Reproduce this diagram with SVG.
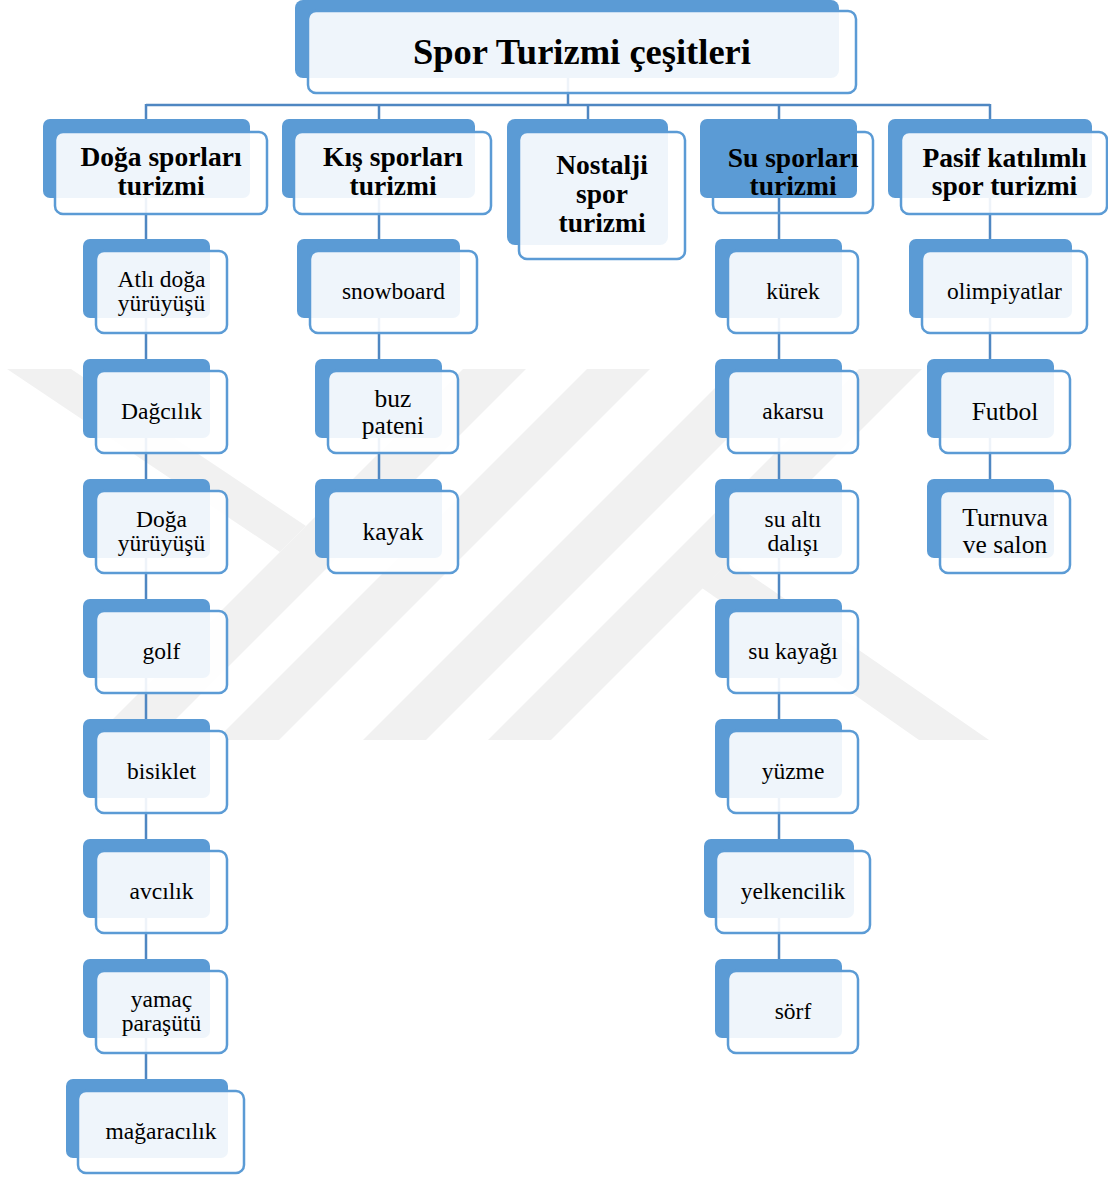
<svg xmlns="http://www.w3.org/2000/svg" width="1108" height="1177" viewBox="0 0 1108 1177">
<style>
.wm{fill:#F1F1F1}
.bk{fill:#5B9BD5}
.fr{fill:#FFFFFF;fill-opacity:0.9;stroke:#5B9BD5;stroke-width:2.5}
.frn{fill:none;stroke:#5B9BD5;stroke-width:2.5}
.cn{stroke:#4F87C2;stroke-width:2.5;fill:none}
text{font-family:"Liberation Serif","Times New Roman",serif;fill:#000;text-anchor:middle}
.t0{font-size:36.5px;font-weight:bold}
.t1{font-size:27.5px;font-weight:bold}
.t2{font-size:23.5px}
.t3{font-size:25.5px}
</style>
<rect width="1108" height="1177" fill="#FFFFFF"/>
<g id="watermark">
<polygon class="wm" points="7,369 71,369 306,526 280,552"/>
<polygon class="wm" points="463,369 526,369 155,740 92,740"/>
<polygon class="wm" points="587,369 650,369 279,740 216,740"/>
<polygon class="wm" points="734,369 797,369 426,740 363,740"/>
<polygon class="wm" points="859,369 922,369 551,740 488,740"/>
<polygon class="wm" points="730,561 989,740 919,740 702,588"/>
</g>
<g id="connectors">
<line class="cn" x1="568" y1="78" x2="568" y2="105"/>
<line class="cn" x1="146" y1="105" x2="990" y2="105"/>
<line class="cn" x1="146" y1="104" x2="146" y2="1079"/>
<line class="cn" x1="379" y1="104" x2="379" y2="479"/>
<line class="cn" x1="588" y1="104" x2="588" y2="119"/>
<line class="cn" x1="779" y1="104" x2="779" y2="959"/>
<line class="cn" x1="990" y1="104" x2="990" y2="479"/>
</g>
<g id="root">
<rect class="bk" x="295" y="0" width="544" height="78" rx="8"/>
<rect class="fr" x="308" y="11" width="548" height="82" rx="8"/>
<text class="t0" x="582" y="64">Spor Turizmi çeşitleri</text>
</g>
<g id="doga">
<rect class="bk" x="43" y="119" width="207" height="79" rx="7"/>
<rect class="fr" x="55" y="132" width="212" height="82" rx="8"/>
<text class="t1" x="161" y="166">Doğa sporları</text>
<text class="t1" x="161" y="195">turizmi</text>
</g>
<g id="kis">
<rect class="bk" x="282" y="119" width="193" height="79" rx="7"/>
<rect class="fr" x="294" y="132" width="197" height="82" rx="8"/>
<text class="t1" x="393" y="166">Kış sporları</text>
<text class="t1" x="393" y="195">turizmi</text>
</g>
<g id="nostalji">
<rect class="bk" x="507" y="119" width="161" height="126" rx="8"/>
<rect class="fr" x="519" y="132" width="166" height="127" rx="8"/>
<text class="t1" x="602" y="174">Nostalji</text>
<text class="t1" x="602" y="203">spor</text>
<text class="t1" x="602" y="232">turizmi</text>
</g>
<g id="su">
<rect class="frn" x="713" y="132" width="160" height="81" rx="8"/>
<rect class="bk" x="700" y="119" width="157" height="79" rx="7"/>
<text class="t1" x="793" y="167">Su sporları</text>
<text class="t1" x="793" y="195">turizmi</text>
</g>
<g id="pasif">
<rect class="bk" x="888" y="119" width="204" height="79" rx="7"/>
<rect class="fr" x="901" y="132" width="206" height="82" rx="8"/>
<text class="t1" x="1004.5" y="167">Pasif katılımlı</text>
<text class="t1" x="1004.5" y="195">spor turizmi</text>
</g>
<g id="atli">
<rect class="bk" x="83" y="239" width="127" height="79" rx="7"/>
<rect class="fr" x="96" y="251" width="131" height="82" rx="8"/>
<text class="t2" x="161.5" y="287">Atlı doğa</text>
<text class="t2" x="161.5" y="311">yürüyüşü</text>
</g>
<g id="dagcilik">
<rect class="bk" x="83" y="359" width="127" height="79" rx="7"/>
<rect class="fr" x="96" y="371" width="131" height="82" rx="8"/>
<text class="t2" x="161.5" y="419">Dağcılık</text>
</g>
<g id="doga-yuruyusu">
<rect class="bk" x="83" y="479" width="127" height="79" rx="7"/>
<rect class="fr" x="96" y="491" width="131" height="82" rx="8"/>
<text class="t2" x="161.5" y="527">Doğa</text>
<text class="t2" x="161.5" y="551">yürüyüşü</text>
</g>
<g id="golf">
<rect class="bk" x="83" y="599" width="127" height="79" rx="7"/>
<rect class="fr" x="96" y="611" width="131" height="82" rx="8"/>
<text class="t2" x="161.5" y="659">golf</text>
</g>
<g id="bisiklet">
<rect class="bk" x="83" y="719" width="127" height="79" rx="7"/>
<rect class="fr" x="96" y="731" width="131" height="82" rx="8"/>
<text class="t2" x="161.5" y="779">bisiklet</text>
</g>
<g id="avcilik">
<rect class="bk" x="83" y="839" width="127" height="79" rx="7"/>
<rect class="fr" x="96" y="851" width="131" height="82" rx="8"/>
<text class="t2" x="161.5" y="899">avcılık</text>
</g>
<g id="yamac">
<rect class="bk" x="83" y="959" width="127" height="79" rx="7"/>
<rect class="fr" x="96" y="971" width="131" height="82" rx="8"/>
<text class="t2" x="161.5" y="1007">yamaç</text>
<text class="t2" x="161.5" y="1031">paraşütü</text>
</g>
<g id="magaracilik">
<rect class="bk" x="66" y="1079" width="162" height="79" rx="7"/>
<rect class="fr" x="78" y="1091" width="166" height="82" rx="8"/>
<text class="t2" x="161" y="1139">mağaracılık</text>
</g>
<g id="snowboard">
<rect class="bk" x="297" y="239" width="163" height="79" rx="7"/>
<rect class="fr" x="310" y="251" width="167" height="82" rx="8"/>
<text class="t2" x="393.5" y="299">snowboard</text>
</g>
<g id="buz">
<rect class="bk" x="315" y="359" width="127" height="79" rx="7"/>
<rect class="fr" x="328" y="371" width="130" height="82" rx="8"/>
<text class="t3" x="393" y="407">buz</text>
<text class="t3" x="393" y="434">pateni</text>
</g>
<g id="kayak">
<rect class="bk" x="315" y="479" width="127" height="79" rx="7"/>
<rect class="fr" x="328" y="491" width="130" height="82" rx="8"/>
<text class="t3" x="393" y="540">kayak</text>
</g>
<g id="kurek">
<rect class="bk" x="715" y="239" width="127" height="79" rx="7"/>
<rect class="fr" x="728" y="251" width="130" height="82" rx="8"/>
<text class="t2" x="793" y="299">kürek</text>
</g>
<g id="akarsu">
<rect class="bk" x="715" y="359" width="127" height="79" rx="7"/>
<rect class="fr" x="728" y="371" width="130" height="82" rx="8"/>
<text class="t2" x="793" y="419">akarsu</text>
</g>
<g id="sualti">
<rect class="bk" x="715" y="479" width="127" height="79" rx="7"/>
<rect class="fr" x="728" y="491" width="130" height="82" rx="8"/>
<text class="t2" x="793" y="527">su altı</text>
<text class="t2" x="793" y="551">dalışı</text>
</g>
<g id="sukayagi">
<rect class="bk" x="715" y="599" width="127" height="79" rx="7"/>
<rect class="fr" x="728" y="611" width="130" height="82" rx="8"/>
<text class="t2" x="793" y="659">su kayağı</text>
</g>
<g id="yuzme">
<rect class="bk" x="715" y="719" width="127" height="79" rx="7"/>
<rect class="fr" x="728" y="731" width="130" height="82" rx="8"/>
<text class="t2" x="793" y="779">yüzme</text>
</g>
<g id="yelkencilik">
<rect class="bk" x="704" y="839" width="150" height="79" rx="7"/>
<rect class="fr" x="716" y="851" width="154" height="82" rx="8"/>
<text class="t2" x="793" y="899">yelkencilik</text>
</g>
<g id="sorf">
<rect class="bk" x="715" y="959" width="127" height="79" rx="7"/>
<rect class="fr" x="728" y="971" width="130" height="82" rx="8"/>
<text class="t2" x="793" y="1019">sörf</text>
</g>
<g id="olimpiyatlar">
<rect class="bk" x="909" y="239" width="163" height="79" rx="7"/>
<rect class="fr" x="922" y="251" width="165" height="82" rx="8"/>
<text class="t2" x="1004.5" y="299">olimpiyatlar</text>
</g>
<g id="futbol">
<rect class="bk" x="927" y="359" width="127" height="79" rx="7"/>
<rect class="fr" x="940" y="371" width="130" height="82" rx="8"/>
<text class="t3" x="1005" y="420">Futbol</text>
</g>
<g id="turnuva">
<rect class="bk" x="927" y="479" width="127" height="79" rx="7"/>
<rect class="fr" x="940" y="491" width="130" height="82" rx="8"/>
<text class="t3" x="1005" y="526">Turnuva</text>
<text class="t3" x="1005" y="553">ve salon</text>
</g>
</svg>
